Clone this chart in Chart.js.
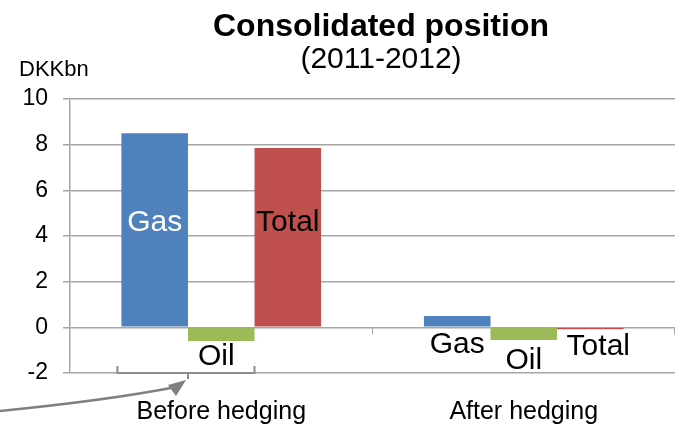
<!DOCTYPE html>
<html>
<head>
<meta charset="utf-8">
<script src="https://cdn.jsdelivr.net/npm/chart.js@4"></script>
<style>
  html, body { margin: 0; padding: 0; background: #fff; }
  #wrap { width: 677px; height: 428px; }
</style>
</head>
<body>
<div id="wrap"><canvas id="c" width="677" height="428"></canvas></div>
<script>
/* data */
const categories = ['Before hedging', 'After hedging'];
const seriesNames = ['Gas', 'Oil', 'Total'];
const gasValues = [8.5, 0.5];
const oilValues = [-0.6, -0.55];
const totalValues = [7.85, -0.08];
const yTicks = [-2, 0, 2, 4, 6, 8, 10];

const FONT = "'Liberation Sans', Arial, sans-serif";
const GRID = '#a6a6a6';

/* title, bar labels, bracket + arrow */
const decor = {
  id: 'decor',
  afterDraw(chart){
    const {ctx, chartArea, scales:{x, y}} = chart;
    ctx.save();
    ctx.fillStyle = '#000';
    ctx.textAlign = 'center';
    ctx.textBaseline = 'alphabetic';
    ctx.font = 'bold 32px ' + FONT;
    ctx.fillText('Consolidated position', 381, 36);
    ctx.font = '30px ' + FONT;
    ctx.fillText('(2011-2012)', 381, 68);
    ctx.textAlign = 'left';
    ctx.font = '22px ' + FONT;
    ctx.fillText('DKKbn', 19, 76);

    /* small x-axis ticks on the zero line */
    const y0 = y.getPixelForValue(0);
    ctx.strokeStyle = GRID;
    ctx.lineWidth = 1;
    const mid = (x.getPixelForValue(0) + x.getPixelForValue(1)) / 2;
    [mid, chartArea.right - 0.5].forEach(px => {
      ctx.beginPath(); ctx.moveTo(px, y0); ctx.lineTo(px, y0 + 7); ctx.stroke();
    });

    /* series labels anchored to the bars */
    const bar = (ds, i) => chart.getDatasetMeta(ds).data[i];
    ctx.textAlign = 'center';
    ctx.textBaseline = 'middle';
    ctx.font = '30px ' + FONT;
    const inY = y.getPixelForValue(4.6);
    ctx.fillStyle = '#fff';
    ctx.fillText('Gas', bar(0,0).x, inY);
    ctx.fillStyle = '#000';
    ctx.fillText('Total', bar(2,0).x, inY);
    ctx.fillText('Oil', bar(1,0).x - 5, y.getPixelForValue(-1.3));
    ctx.fillText('Gas', bar(0,1).x, y.getPixelForValue(-0.75));
    ctx.fillText('Oil', bar(1,1).x, y.getPixelForValue(-1.45));
    ctx.fillText('Total', bar(2,1).x + 8, y.getPixelForValue(-0.85));

    /* bracket under the before-hedging group */
    const yb = y.getPixelForValue(-2);
    const l = bar(0,0).x - bar(0,0).width/2 - 4;
    const r = bar(1,0).x + bar(1,0).width/2;
    const c = bar(0,0).x + bar(0,0).width/2;
    ctx.strokeStyle = '#8c8c8c';
    ctx.lineWidth = 2;
    ctx.beginPath();
    ctx.moveTo(l, yb - 7); ctx.lineTo(l, yb);
    ctx.lineTo(r, yb); ctx.lineTo(r, yb - 7);
    ctx.moveTo(c, yb); ctx.lineTo(c, yb + 6);
    ctx.stroke();

    /* curved arrow coming in from the left */
    ctx.strokeStyle = '#808080';
    ctx.fillStyle = '#808080';
    ctx.lineWidth = 2.5;
    const tipX = c - 2, tipY = yb + 7;
    ctx.beginPath();
    ctx.moveTo(0, yb + 38);
    ctx.quadraticCurveTo(110, yb + 27, tipX - 10, tipY + 7);
    ctx.stroke();
    ctx.beginPath();
    ctx.moveTo(tipX, tipY);
    ctx.lineTo(tipX - 18, tipY + 5);
    ctx.lineTo(tipX - 10, tipY + 16);
    ctx.closePath();
    ctx.fill();
    ctx.restore();
  }
};

new Chart(document.getElementById('c'), {
  type: 'bar',
  data: {
    labels: categories,
    datasets: [
      { label: seriesNames[0], data: gasValues, backgroundColor: '#4f81bd' },
      { label: seriesNames[1], data: oilValues, backgroundColor: '#9bbb59' },
      { label: seriesNames[2], data: totalValues, backgroundColor: '#c0504d' }
    ]
  },
  options: {
    responsive: false,
    animation: false,
    devicePixelRatio: 1,
    categoryPercentage: 0.66,
    barPercentage: 1.0,
    layout: { padding: { top: 99, right: 2, left: 0, bottom: 0 } },
    plugins: { legend: { display: false }, tooltip: { enabled: false }, title: { display: false } },
    scales: {
      x: {
        grid: { display: false },
        border: { display: false },
        ticks: { color: '#000', font: { family: FONT, size: 25 }, padding: 16 },
        afterFit: s => { s.height = 55; }
      },
      y: {
        min: -2, max: 10,
        afterBuildTicks: s => { s.ticks = yTicks.map(v => ({ value: v })); },
        grid: { color: GRID, lineWidth: 1.5, tickLength: 7 },
        border: { color: GRID, width: 1.5 },
        ticks: { color: '#000', font: { family: FONT, size: 23 }, padding: 15 },
        afterFit: s => { s.width = 70; }
      }
    }
  },
  plugins: [decor]
});
</script>
</body>
</html>
